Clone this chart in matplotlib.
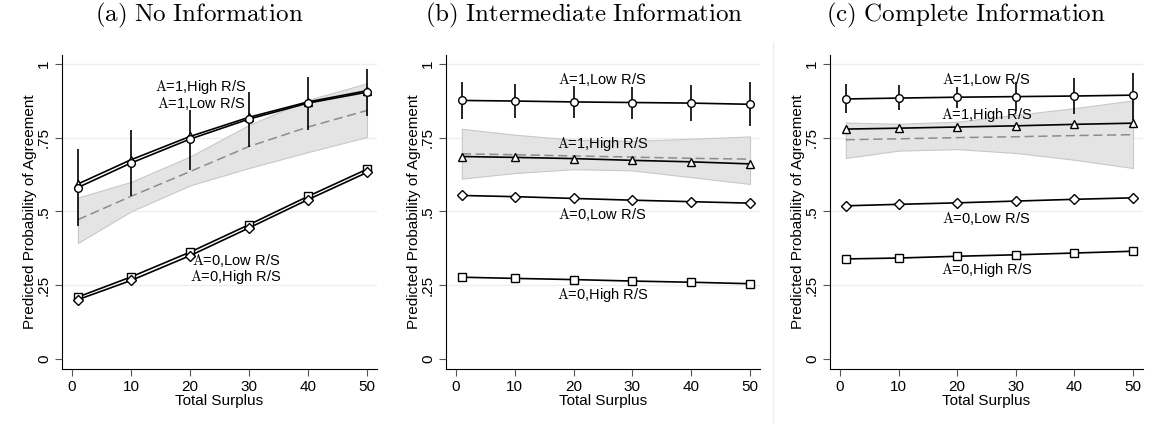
import matplotlib
matplotlib.use("Agg")
import matplotlib.pyplot as plt

plt.rcParams['font.family'] = ['Liberation Sans', 'DejaVu Sans']
plt.rcParams['mathtext.fontset'] = 'cm'

# x values (total surplus)
surplus = [1, 10, 20, 30, 40, 50]

# (a) No Information
no_a1_high = [0.593, 0.675, 0.754, 0.819, 0.871, 0.909]
no_a1_low = [0.581, 0.664, 0.745, 0.813, 0.867, 0.904]
no_a1_low_hi = [0.711, 0.776, 0.844, 0.906, 0.955, 0.984]
no_a1_low_lo = [0.449, 0.551, 0.641, 0.717, 0.777, 0.824]
no_a0_low = [0.210, 0.278, 0.362, 0.455, 0.551, 0.643]
no_a0_high = [0.201, 0.266, 0.350, 0.444, 0.540, 0.632]
no_pred = [0.472, 0.551, 0.635, 0.720, 0.786, 0.842]
no_band_hi = [0.547, 0.600, 0.686, 0.793, 0.878, 0.934]
no_band_lo = [0.393, 0.500, 0.588, 0.647, 0.701, 0.752]

# (b) Intermediate Information
mid_a1_low = [0.876, 0.874, 0.871, 0.869, 0.867, 0.863]
mid_a1_low_hi = [0.940, 0.932, 0.925, 0.923, 0.930, 0.938]
mid_a1_low_lo = [0.813, 0.816, 0.816, 0.813, 0.805, 0.791]
mid_a1_high = [0.686, 0.683, 0.679, 0.673, 0.668, 0.661]
mid_a0_low = [0.554, 0.550, 0.544, 0.538, 0.533, 0.528]
mid_a0_high = [0.277, 0.273, 0.269, 0.264, 0.260, 0.255]
mid_pred = [0.695, 0.692, 0.688, 0.684, 0.680, 0.677]
mid_band_hi = [0.780, 0.760, 0.743, 0.739, 0.746, 0.754]
mid_band_lo = [0.611, 0.630, 0.643, 0.639, 0.616, 0.593]

# (c) Complete Information
com_a1_low = [0.881, 0.884, 0.887, 0.889, 0.891, 0.894]
com_a1_low_hi = [0.931, 0.927, 0.923, 0.940, 0.951, 0.968]
com_a1_low_lo = [0.833, 0.842, 0.850, 0.839, 0.831, 0.810]
com_a1_high = [0.779, 0.782, 0.786, 0.790, 0.795, 0.799]
com_a0_low = [0.519, 0.524, 0.529, 0.535, 0.541, 0.546]
com_a0_high = [0.339, 0.342, 0.348, 0.353, 0.359, 0.365]
com_pred = [0.743, 0.746, 0.750, 0.753, 0.757, 0.760]
com_band_hi = [0.801, 0.797, 0.804, 0.827, 0.850, 0.876]
com_band_lo = [0.681, 0.706, 0.711, 0.698, 0.675, 0.647]

titles = [r'$\mathrm{(a)\ No\ Information}$',
          r'$\mathrm{(b)\ Intermediate\ Information}$',
          r'$\mathrm{(c)\ Complete\ Information}$']
title_x = [199, 584, 966]

yticks = [0, 0.25, 0.5, 0.75, 1]
yticklabels = ['0', '.25', '.5', '.75', '1']
xticks = [0, 10, 20, 30, 40, 50]

W, H = 1156, 424
fig = plt.figure(figsize=(W / 100, H / 100), dpi=100)
lefts = [62, 446, 830]
widths = [315, 314, 313]

A = r'$\mathrm{A}$'


def draw_series(ax, y, marker):
    ax.plot(surplus, y, color='black', lw=1.2, marker=marker, ms=5.5,
            mfc='white', mec='black', mew=1.0, zorder=4)


def setup(ax):
    ax.set_xlim(-1.7, 51.7)
    ax.set_ylim(-0.034, 1.03)
    for s in ['top', 'right']:
        ax.spines[s].set_visible(False)
    ax.set_yticks(yticks)
    ax.set_yticklabels(yticklabels, rotation=90, va='center')
    ax.set_xticks(xticks)
    ax.tick_params(axis='both', labelsize=11, length=5, width=0.8,
                   color='#555555', pad=3)
    for y in yticks[1:]:
        ax.axhline(y, color='#e8f0f1', lw=1.0, zorder=0)
    ax.set_xlabel('Total Surplus', fontsize=11, labelpad=0)
    ax.set_ylabel('Predicted Probability of Agreement', fontsize=11,
                  labelpad=0)


def band(ax, lo, hi, pred):
    ax.fill_between(surplus, lo, hi, facecolor='#e4e4e4',
                    edgecolor='#c8c8c8', lw=0.8, zorder=1)
    ax.plot(surplus, pred, color='#8c8c8c', lw=1.1, ls=(0, (6, 3)), zorder=2)


def errbars(ax, lo, hi):
    ax.vlines(surplus, lo, hi, color='black', lw=1.2, zorder=3)


axes = []
for left, width in zip(lefts, widths):
    ax = fig.add_axes([left / W, 1 - 369 / H, width / W, 314 / H])
    setup(ax)
    axes.append(ax)

lab_kw = dict(fontsize=10.5, ha='center', va='center', zorder=6)

# panel (a)
ax = axes[0]
band(ax, no_band_lo, no_band_hi, no_pred)
errbars(ax, no_a1_low_lo, no_a1_low_hi)
draw_series(ax, no_a1_high, '^')
draw_series(ax, no_a1_low, 'o')
draw_series(ax, no_a0_low, 's')
draw_series(ax, no_a0_high, 'D')
ax.text(21.9, 0.920, A + '=1,High R/S', **lab_kw)
ax.text(21.9, 0.866, A + '=1,Low R/S', **lab_kw)
ax.text(27.8, 0.333, A + '=0,Low R/S', **lab_kw)
ax.text(27.8, 0.277, A + '=0,High R/S', **lab_kw)

# panel (b)
ax = axes[1]
band(ax, mid_band_lo, mid_band_hi, mid_pred)
errbars(ax, mid_a1_low_lo, mid_a1_low_hi)
draw_series(ax, mid_a1_low, 'o')
draw_series(ax, mid_a1_high, '^')
draw_series(ax, mid_a0_low, 'D')
draw_series(ax, mid_a0_high, 's')
ax.text(24.9, 0.948, A + '=1,Low R/S', **lab_kw)
ax.text(24.9, 0.728, A + '=1,High R/S', **lab_kw)
ax.text(24.9, 0.489, A + '=0,Low R/S', **lab_kw)
ax.text(24.9, 0.218, A + '=0,High R/S', **lab_kw)

# panel (c)
ax = axes[2]
band(ax, com_band_lo, com_band_hi, com_pred)
errbars(ax, com_a1_low_lo, com_a1_low_hi)
draw_series(ax, com_a1_low, 'o')
draw_series(ax, com_a1_high, '^')
draw_series(ax, com_a0_low, 'D')
draw_series(ax, com_a0_high, 's')
ax.text(25, 0.948, A + '=1,Low R/S', **lab_kw)
ax.text(25, 0.827, A + '=1,High R/S', **lab_kw)
ax.text(25, 0.477, A + '=0,Low R/S', **lab_kw)
ax.text(25, 0.300, A + '=0,High R/S', **lab_kw)

# titles
for t, x in zip(titles, title_x):
    fig.text(x / W, 1 - 15 / H, t, fontsize=18, ha='center', va='center')

# faint separator between panels (b) and (c)
fig.add_artist(plt.Line2D([773 / W, 773 / W], [0, 1 - 42 / H],
                          color='#eeeeee', lw=1.0))

fig.savefig('out.png', dpi=100, facecolor='white')
